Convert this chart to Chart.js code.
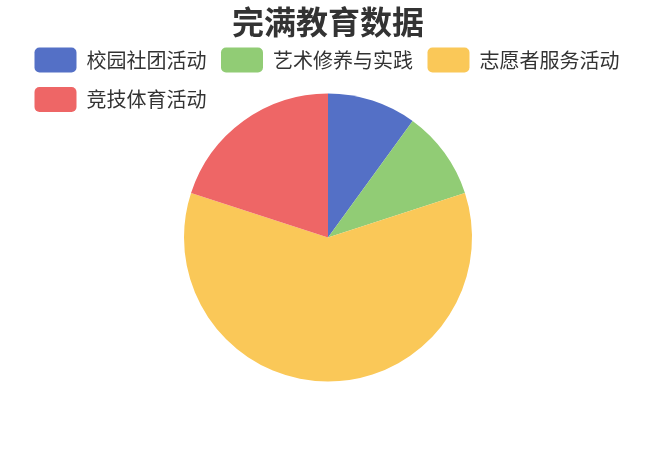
<!DOCTYPE html>
<html>
<head>
<meta charset="utf-8">
<script src="https://cdn.jsdelivr.net/npm/chart.js@4/dist/chart.umd.min.js"></script>
<style>
  html, body { margin: 0; padding: 0; background: #fff; }
  #wrap { width: 656px; height: 475px; }
</style>
</head>
<body>
<div id="wrap"><canvas id="pie"></canvas></div>
<script>
// 完满教育数据 - pie
const categories = ['校园社团活动', '艺术修养与实践', '志愿者服务活动', '竞技体育活动'];
const values = [10, 10, 60, 20];
const colors = ['#5470c6', '#91cc75', '#fac858', '#ee6666'];

Chart.defaults.font.family = '"Noto Sans CJK SC", "Noto Sans", sans-serif';
Chart.defaults.color = '#333';

const pie = new Chart(document.getElementById('pie'), {
  type: 'pie',
  data: {
    labels: categories,
    datasets: [{
      data: values,
      backgroundColor: colors,
      borderWidth: 0,
      radius: 144,
      clip: false
    }]
  },
  options: {
    responsive: true,
    maintainAspectRatio: false,
    animation: false,
    layout: {
      padding: { left: 20, right: 20, top: 0, bottom: 122 }
    },
    plugins: {
      title: {
        display: true,
        text: '完满教育数据',
        color: '#333',
        font: { size: 32, weight: 'bold', lineHeight: 1 },
        padding: { top: 6, bottom: -5 }
      },
      legend: {
        position: 'top',
        align: 'start',
        labels: {
          boxWidth: 42,
          boxHeight: 25,
          padding: 14.5,
          useBorderRadius: true,
          borderRadius: 5,
          color: '#333',
          font: { size: 20 }
        }
      },
      tooltip: { enabled: false }
    }
  }
});
</script>
</body>
</html>
